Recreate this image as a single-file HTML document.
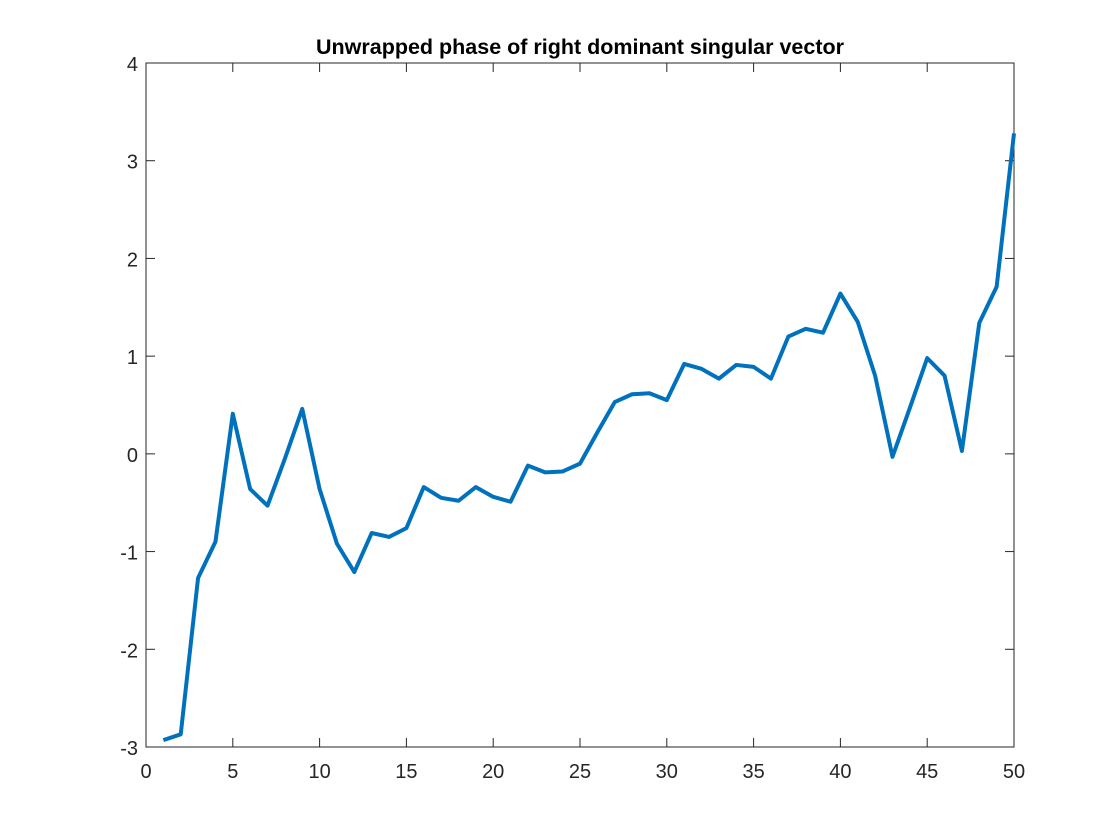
<!DOCTYPE html>
<html><head><meta charset="utf-8"><style>
html,body{margin:0;padding:0;background:#fff;}
svg{display:block;font-family:"Liberation Sans",sans-serif;}
</style></head><body>
<svg id="chart" width="1120" height="840">
<rect x="0" y="0" width="1120" height="840" fill="#fff"/>
<rect x="146" y="63" width="868" height="684" fill="#fff" stroke="#262626" stroke-width="1"/>
<text x="580" y="54" text-anchor="middle" font-size="21.5" font-weight="bold" fill="#000">Unwrapped phase of right dominant singular vector</text>
<g id="axes"></g>
<g id="series"></g>
</svg>
<script>
const xValues = [1,2,3,4,5,6,7,8,9,10,11,12,13,14,15,16,17,18,19,20,21,22,23,24,25,26,27,28,29,30,31,32,33,34,35,36,37,38,39,40,41,42,43,44,45,46,47,48,49,50];
const yValues = [-2.93,-2.87,-1.27,-0.90,0.41,-0.36,-0.53,-0.05,0.46,-0.36,-0.92,-1.21,-0.81,-0.85,-0.76,-0.34,-0.45,-0.48,-0.34,-0.44,-0.49,-0.12,-0.19,-0.18,-0.10,0.22,0.53,0.61,0.62,0.55,0.92,0.87,0.77,0.91,0.89,0.77,1.20,1.28,1.24,1.64,1.35,0.80,-0.03,0.47,0.98,0.80,0.03,1.34,1.71,3.28];
const xTicks = [0,5,10,15,20,25,30,35,40,45,50];
const yTicks = [-3,-2,-1,0,1,2,3,4];
const X0=146,X1=1014,Y0=747,Y1=63;
const xs = v => X0 + (v-0)/(50-0)*(X1-X0);
const ys = v => Y0 - (v-(-3))/(4-(-3))*(Y0-Y1);
const NS="http://www.w3.org/2000/svg";
const axes=document.getElementById('axes');
function mk(tag,attrs,parent){const e=document.createElementNS(NS,tag);for(const k in attrs)e.setAttribute(k,attrs[k]);parent.appendChild(e);return e;}
xTicks.forEach(t=>{
  const x=xs(t);
  const l1=mk('line',{x1:x,x2:x,y1:Y0,y2:Y0-9,stroke:'#262626'},axes);
  
  
  const l2=mk('line',{x1:x,x2:x,y1:Y1,y2:Y1+9,stroke:'#262626'},axes);
  
  
  const tx=mk('text',{x:x,y:Y0+31,'text-anchor':'middle','font-size':'20',fill:'#262626'},axes);
  tx.textContent=t;
  
  
});
yTicks.forEach(t=>{
  const y=ys(t);
  const l1=mk('line',{x1:X0,x2:X0+9,y1:y,y2:y,stroke:'#262626'},axes);
  
  
  const l2=mk('line',{x1:X1,x2:X1-9,y1:y,y2:y,stroke:'#262626'},axes);
  
  
  const tx=mk('text',{x:X0-8,y:y+8,'text-anchor':'end','font-size':'20',fill:'#262626'},axes);
  tx.textContent=t;
  
  
});
const pts=xValues.map((x,i)=>xs(x)+','+ys(yValues[i])).join(' ');
const line=mk('polyline',{points:pts,fill:'none',stroke:'#0072bd','stroke-width':'4','stroke-linejoin':'round','stroke-linecap':'butt'},document.getElementById('series'));


</script>
</body></html>
